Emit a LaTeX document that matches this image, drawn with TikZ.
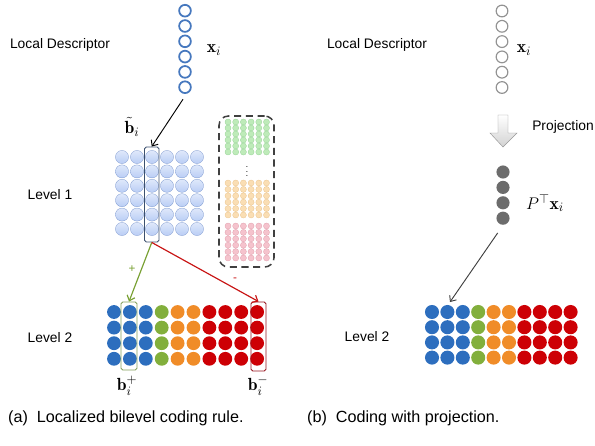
\documentclass[tikz,border=0pt]{standalone}
\usepackage{amsmath}
\usepackage{bm}
\usepackage{fontspec}
\setsansfont{Liberation Sans}
\usetikzlibrary{arrows.meta,positioning,fit,shapes.geometric}
\tikzset{>={Straight Barb[length=4pt,width=7pt]}}

\definecolor{descblue}{RGB}{70,120,190}
\definecolor{lonefill}{RGB}{185,205,245}
\definecolor{loneedge}{RGB}{110,140,200}
\definecolor{boxblue}{RGB}{60,80,110}
\definecolor{dictgreen}{RGB}{190,235,185}
\definecolor{dictgreenedge}{RGB}{140,205,140}
\definecolor{dictorange}{RGB}{250,222,180}
\definecolor{dictorangeedge}{RGB}{232,190,130}
\definecolor{dictpink}{RGB}{245,195,205}
\definecolor{dictpinkedge}{RGB}{222,150,165}
\definecolor{ltwoblue}{RGB}{45,110,190}
\definecolor{ltwogreen}{RGB}{130,175,60}
\definecolor{ltwoorange}{RGB}{240,140,40}
\definecolor{ltwored}{RGB}{205,0,5}
\definecolor{plusgreen}{RGB}{120,160,50}
\definecolor{minusred}{RGB}{200,20,20}
\definecolor{redbox}{RGB}{150,20,30}
\definecolor{greenbox}{RGB}{130,160,90}

\tikzset{
  lab/.style={font=\fontsize{11.8}{14}\selectfont\sffamily},
  captext/.style={font=\fontsize{13.8}{16}\selectfont\sffamily, anchor=west},
  mlab/.style={font=\fontsize{15}{18}\selectfont},
  colbox/.style={draw=#1, rounded corners=1.5pt, inner sep=0pt, line width=0.8pt},
  lonecirc/.style={draw=loneedge, top color=lonefill!45, bottom color=lonefill, very thin},
}

\begin{document}
\begin{tikzpicture}[x=0.03cm,y=-0.03cm]
\useasboundingbox (0,0) rectangle (595,445);

% ---- (a) localized bilevel coding ----
\node[lab] (descA) at (60,45) {Local Descriptor};
\node[lab] (levelone) at (50,195) {Level 1};
\node[lab] (leveltwoA) at (50,338) {Level 2};

\foreach \j in {0,...,5}
  \draw[descblue, line width=1.5pt] (185,10.7+15.3*\j) circle (5pt);
\node[fit={(179,4) (191,94)}, inner sep=0pt] (xcolA) {};
\node[mlab] (xA) at (214,50) {$\mathbf{x}_i$};

% level 1 codebook
\foreach \i in {0,...,5}
\foreach \j in {0,...,5}
  \draw[lonecirc] (122+15*\i,157+14.4*\j) circle (5.6pt);
\node[colbox=boxblue, fit={(144.5,147) (159,242)}] (bcol) {};
\node[mlab] (btilde) at (132,127) {$\tilde{\mathbf{b}}_i$};

% level 2 dictionaries
\node[draw=black!75, dash pattern=on 6pt off 4pt, line width=1.3pt, rounded corners=8pt,
      inner sep=0pt, fit={(219,116) (274,267)}] (dict) {};
\foreach \i in {0,...,5}
\foreach \j in {0,...,5}
{
  \draw[fill=dictgreen, draw=dictgreenedge, very thin] (228+7.7*\i,122+6*\j) circle (2.6pt);
  \draw[fill=dictorange, draw=dictorangeedge, very thin] (228+7.7*\i,183+6.4*\j) circle (2.6pt);
  \draw[fill=dictpink, draw=dictpinkedge, very thin] (228+7.7*\i,226+6.4*\j) circle (2.6pt);
}
\node[font=\footnotesize, inner sep=0pt] (vdots) at (247,168) {$\vdots$};

% level 2 codebook
\foreach \i/\c in {0/ltwoblue,1/ltwoblue,2/ltwoblue,3/ltwogreen,4/ltwoorange,5/ltwoorange,6/ltwored,7/ltwored,8/ltwored,9/ltwored}
\foreach \j in {0,...,3}
  \fill[\c] (114+15.9*\i,312+15.6*\j) circle (5.9pt);
\node[colbox=greenbox, fit={(121,302) (137,370)}] (bplus) {};
\node[colbox=redbox, fit={(251,302) (266,371)}] (bminus) {};
\node[mlab] (bplustxt) at (127,386) {$\mathbf{b}_i^{+}$};
\node[mlab] (bminustxt) at (258,386) {$\mathbf{b}_i^{-}$};

\draw[->, line width=0.8pt] ([shift={(-2,5)}]xcolA.south) -- (bcol.north);
\draw[->, plusgreen, line width=1pt] (bcol.south) -- (bplus.north);
\draw[->, minusred, line width=1pt] (bcol.south) -- (bminus.north);
\node[plusgreen, font=\sffamily] (plus) at (132,269) {+};
\node[minusred, font=\sffamily] (minus) at (235,280) {-};

\node[captext] (capA) at (4,418) {(a)\ \ Localized bilevel coding rule.};

% ---- (b) coding with projection ----
\node[lab] (descB) at (377,45) {Local Descriptor};
\node[lab] (leveltwoB) at (367,337) {Level 2};

\foreach \j in {0,...,5}
  \draw[gray!85, line width=1pt] (502,11+15.3*\j) circle (5pt);
\node[mlab] (xB) at (524,50) {$\mathbf{x}_i$};

% projection arrow
\draw[gray!80, top color=white, bottom color=gray!35]
  (498,115) -- (508,115) -- (508,133) -- (517,133) -- (503,147) -- (490,133) -- (498,133) -- cycle;
\node[lab] (projtxt) at (563,127) {Projection};

\foreach \j in {0,...,3}
  \fill[gray!85!black] (503,172+15.4*\j) circle (5.6pt);
\node[fit={(496,165) (510,225)}, inner sep=0pt] (pcol) {};
\node[mlab] (ptx) at (545,203) {$P^{\top}\mathbf{x}_i$};

\foreach \i/\c in {0/ltwoblue,1/ltwoblue,2/ltwoblue,3/ltwogreen,4/ltwoorange,5/ltwoorange,6/ltwored,7/ltwored,8/ltwored,9/ltwored}
\foreach \j in {0,...,3}
  \fill[\c] (432+15.4*\i,312+15.2*\j) circle (6pt);
\coordinate (ltwotgt) at (450,302);
\draw[->, black!75, line width=0.8pt, shorten <=8pt] (pcol.south) -- (ltwotgt);

\node[captext] (capB) at (303,418) {(b)\ \ Coding with projection.};
\end{tikzpicture}
\end{document}
